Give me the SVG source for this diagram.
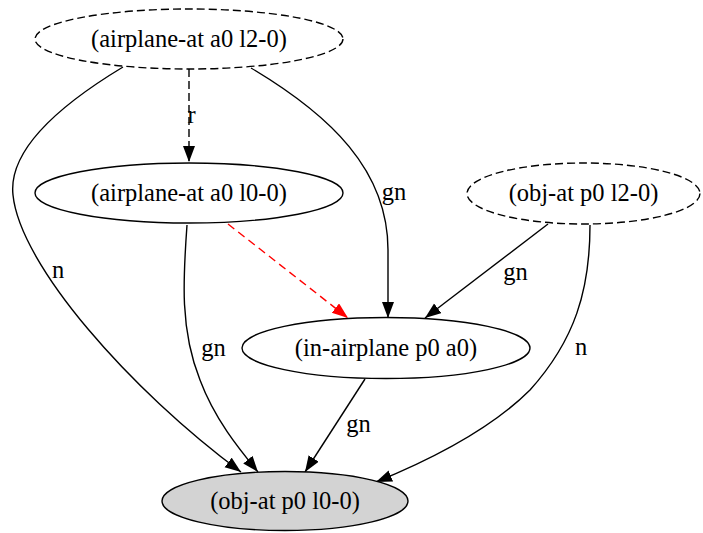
<svg xmlns="http://www.w3.org/2000/svg" width="703" height="533" viewBox="0 0 703 533">
<style>
text{font-family:"Liberation Serif","Times New Roman",serif;font-size:24.5px;fill:#000;text-anchor:middle}
.node ellipse{fill:none;stroke:#000;stroke-width:1.4}
.dashed{stroke-dasharray:8,4}
.edge{fill:none;stroke:#000;stroke-width:1.4}
.red{stroke:#ff0000;stroke-dasharray:8,5}
</style>
<defs>
<marker id="ah" markerUnits="userSpaceOnUse" markerWidth="17" markerHeight="13" refX="16" refY="6" orient="auto"><path d="M0,0 L16,6 L0,12 z" fill="#000"/></marker>
<marker id="ahr" markerUnits="userSpaceOnUse" markerWidth="17" markerHeight="13" refX="16" refY="6" orient="auto"><path d="M0,0 L16,6 L0,12 z" fill="#ff0000"/></marker>
</defs>
<g id="connectors">
<path class="edge dashed" d="M189,69 L189,162" marker-end="url(#ah)"/>
<text x="191.5" y="123">r</text>
<path class="edge" d="M123,67 C60,105 8,150 13,195 C20,265 130,390 241,472" marker-end="url(#ah)"/>
<text x="58" y="278">n</text>
<path class="edge" d="M251,68 C330,115 388,170 388,250 L388,318" marker-end="url(#ah)"/>
<text x="394" y="200">gn</text>
<path class="edge" d="M187,225 C183,280 180,330 200,380 C215,420 240,450 258,472" marker-end="url(#ah)"/>
<text x="213.5" y="356">gn</text>
<path class="edge red" d="M228,224 L348,318" marker-end="url(#ahr)"/>
<path class="edge" d="M548,224 L425,318" marker-end="url(#ah)"/>
<text x="515.5" y="280">gn</text>
<path class="edge" d="M590,225 C590,290 575,340 530,390 C490,430 430,460 376,482" marker-end="url(#ah)"/>
<text x="581" y="355">n</text>
<path class="edge" d="M365,379 L305,472" marker-end="url(#ah)"/>
<text x="358.5" y="432">gn</text>
</g>
<g id="node-airplane-at-a0-l2-0" class="node">
<ellipse class="dashed" cx="189" cy="39" rx="154" ry="30"/>
<text x="189" y="46.5">(airplane-at a0 l2-0)</text>
</g>
<g id="node-airplane-at-a0-l0-0" class="node">
<ellipse cx="189" cy="193" rx="154" ry="30"/>
<text x="189" y="200.5">(airplane-at a0 l0-0)</text>
</g>
<g id="node-obj-at-p0-l2-0" class="node">
<ellipse class="dashed" cx="583.5" cy="193.5" rx="116.5" ry="30.5"/>
<text x="583.5" y="201">(obj-at p0 l2-0)</text>
</g>
<g id="node-in-airplane-p0-a0" class="node">
<ellipse cx="386" cy="348" rx="144" ry="30.5"/>
<text x="386" y="355.5">(in-airplane p0 a0)</text>
</g>
<g id="node-obj-at-p0-l0-0" class="node">
<ellipse cx="285" cy="501" rx="123" ry="29.5" style="fill:#d3d3d3"/>
<text x="285" y="508.5">(obj-at p0 l0-0)</text>
</g>
</svg>
